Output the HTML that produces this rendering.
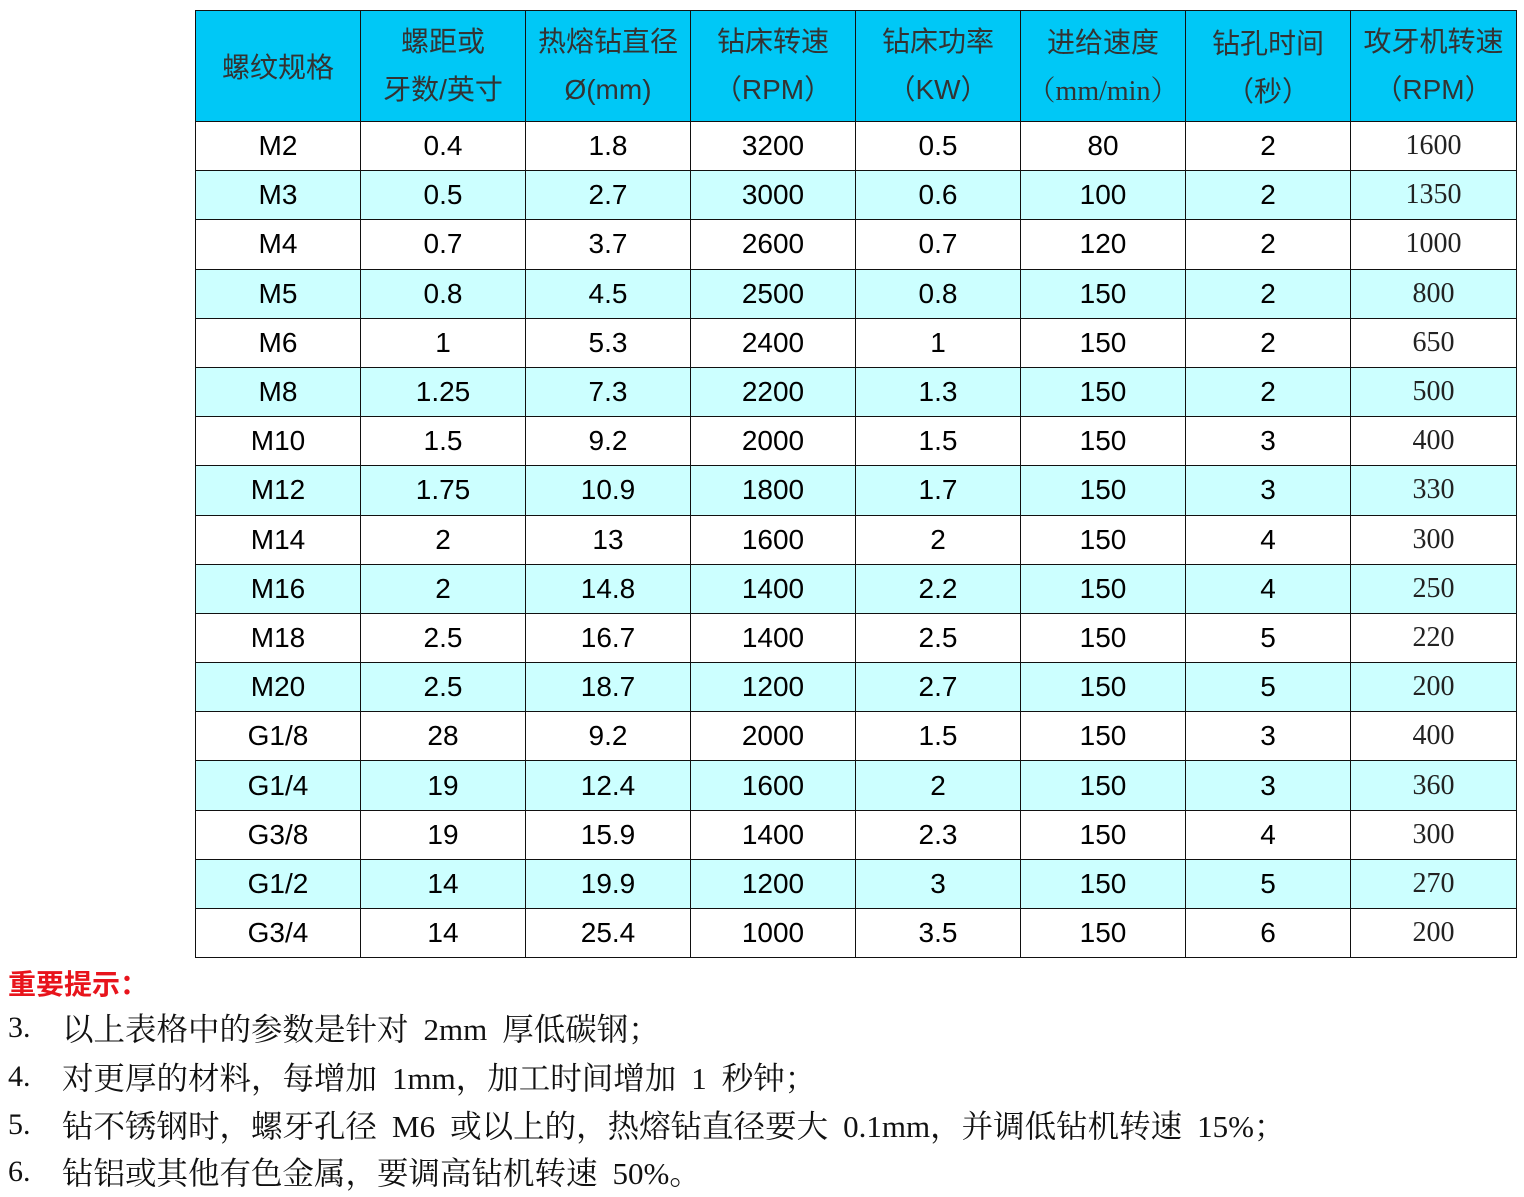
<!DOCTYPE html>
<html><head><meta charset="utf-8"><style>
html,body{margin:0;padding:0;background:#fff;width:1524px;height:1197px;overflow:hidden;position:relative}
table{position:absolute;left:195px;top:10px;border-collapse:collapse;table-layout:fixed;width:1321px}
td{border:1.5px solid #111;text-align:center;vertical-align:middle;padding:0;font-family:"Liberation Sans","Noto Sans CJK SC",sans-serif;font-size:28px;color:#000;height:48.2px;line-height:30px}
tr.h td{background:#00c8f6;color:#333;height:110px;font-size:28px;line-height:48px;font-family:"Noto Sans CJK SC",sans-serif}
tr.h td.s{font-family:"Liberation Sans","Noto Sans CJK SC",sans-serif}
tr.a td{background:#ccffff}
td.r{font-family:"Liberation Serif","Noto Serif CJK SC",serif;color:#222}
.n{position:absolute;left:8px;font-family:"Liberation Serif",serif;font-size:30px;color:#111;white-space:pre}
.t{position:absolute;left:62px;font-family:"Noto Serif CJK SC",serif;font-size:31.5px;color:#111;white-space:pre}
.t b{font-weight:normal;font-family:"Liberation Serif",serif;font-size:31px}
.t b.l{padding-left:15px}.t b.r{padding-right:15px}
</style></head><body>
<table>
<colgroup><col style="width:165px"><col style="width:165px"><col style="width:165px"><col style="width:165px"><col style="width:165px"><col style="width:165px"><col style="width:165px"><col style="width:166px"></colgroup>
<tr class="h"><td>螺纹规格</td><td class="s">螺距或<br>牙数/英寸</td><td class="s">热熔钻直径<br>Ø(mm)</td><td class="s">钻床转速<br>（RPM）</td><td class="s">钻床功率<br>（KW）</td><td><span>进给速度</span><br><span style="font-family:'Liberation Serif','Noto Serif CJK SC',serif">（mm/min）</span></td><td>钻孔时间<br>（秒）</td><td class="s">攻牙机转速<br>（RPM）</td></tr>
<tr><td>M2</td><td>0.4</td><td>1.8</td><td>3200</td><td>0.5</td><td>80</td><td>2</td><td class="r">1600</td></tr>
<tr class="a"><td>M3</td><td>0.5</td><td>2.7</td><td>3000</td><td>0.6</td><td>100</td><td>2</td><td class="r">1350</td></tr>
<tr><td>M4</td><td>0.7</td><td>3.7</td><td>2600</td><td>0.7</td><td>120</td><td>2</td><td class="r">1000</td></tr>
<tr class="a"><td>M5</td><td>0.8</td><td>4.5</td><td>2500</td><td>0.8</td><td>150</td><td>2</td><td class="r">800</td></tr>
<tr><td>M6</td><td>1</td><td>5.3</td><td>2400</td><td>1</td><td>150</td><td>2</td><td class="r">650</td></tr>
<tr class="a"><td>M8</td><td>1.25</td><td>7.3</td><td>2200</td><td>1.3</td><td>150</td><td>2</td><td class="r">500</td></tr>
<tr><td>M10</td><td>1.5</td><td>9.2</td><td>2000</td><td>1.5</td><td>150</td><td>3</td><td class="r">400</td></tr>
<tr class="a"><td>M12</td><td>1.75</td><td>10.9</td><td>1800</td><td>1.7</td><td>150</td><td>3</td><td class="r">330</td></tr>
<tr><td>M14</td><td>2</td><td>13</td><td>1600</td><td>2</td><td>150</td><td>4</td><td class="r">300</td></tr>
<tr class="a"><td>M16</td><td>2</td><td>14.8</td><td>1400</td><td>2.2</td><td>150</td><td>4</td><td class="r">250</td></tr>
<tr><td>M18</td><td>2.5</td><td>16.7</td><td>1400</td><td>2.5</td><td>150</td><td>5</td><td class="r">220</td></tr>
<tr class="a"><td>M20</td><td>2.5</td><td>18.7</td><td>1200</td><td>2.7</td><td>150</td><td>5</td><td class="r">200</td></tr>
<tr><td>G1/8</td><td>28</td><td>9.2</td><td>2000</td><td>1.5</td><td>150</td><td>3</td><td class="r">400</td></tr>
<tr class="a"><td>G1/4</td><td>19</td><td>12.4</td><td>1600</td><td>2</td><td>150</td><td>3</td><td class="r">360</td></tr>
<tr><td>G3/8</td><td>19</td><td>15.9</td><td>1400</td><td>2.3</td><td>150</td><td>4</td><td class="r">300</td></tr>
<tr class="a"><td>G1/2</td><td>14</td><td>19.9</td><td>1200</td><td>3</td><td>150</td><td>5</td><td class="r">270</td></tr>
<tr><td>G3/4</td><td>14</td><td>25.4</td><td>1000</td><td>3.5</td><td>150</td><td>6</td><td class="r">200</td></tr>
</table>
<div style="position:absolute;left:8px;top:963px;font-family:'Noto Sans CJK SC',sans-serif;font-weight:bold;font-size:28px;color:#e8141c;line-height:40px">重要提示：</div>
<div class="n" style="top:1008px;line-height:40px">3.</div><div class="t" style="top:1008px;line-height:40px">以上表格中的参数是针对<b class="l r">2mm</b>厚低碳钢；</div>
<div class="n" style="top:1057px;line-height:40px">4.</div><div class="t" style="top:1057px;line-height:40px">对更厚的材料，每增加<b class="l">1mm</b>，加工时间增加<b class="l r">1</b>秒钟；</div>
<div class="n" style="top:1105px;line-height:40px">5.</div><div class="t" style="top:1105px;line-height:40px">钻不锈钢时，螺牙孔径<b class="l r">M6</b>或以上的，热熔钻直径要大<b class="l">0.1mm</b>，并调低钻机转速<b class="l">15%</b>；</div>
<div class="n" style="top:1152px;line-height:40px">6.</div><div class="t" style="top:1152px;line-height:40px">钻铝或其他有色金属，要调高钻机转速<b class="l">50%</b>。</div>
</body></html>
